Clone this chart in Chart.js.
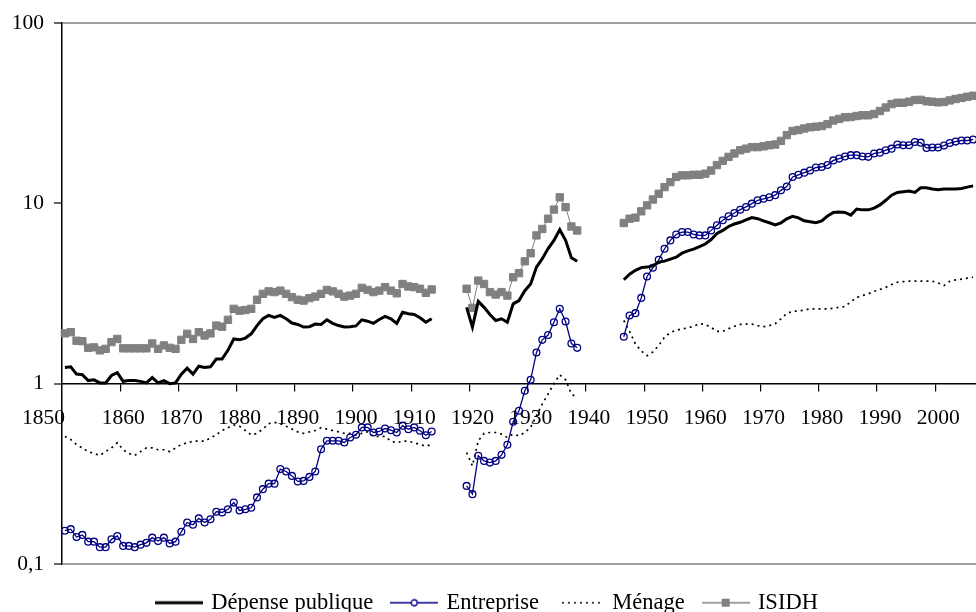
<!DOCTYPE html>
<html>
<head>
<meta charset="utf-8">
<script src="https://cdn.jsdelivr.net/npm/chart.js@4/dist/chart.umd.min.js"></script>
<style>
  html, body { margin: 0; padding: 0; background: #fff; }
  #wrap { width: 976px; height: 612px; position: relative; }
</style>
</head>
<body>
<div id="wrap"><canvas id="chart"></canvas></div>
<script>
// années couvertes : 1850-1913, 1919-1938, 1946-2006 (trous = guerres)
const firstYear = 1850;
const lastYear = 2006;

const depense1850 = [1.23, 1.24, 1.13, 1.12, 1.04, 1.05, 1.01, 1.01, 1.11, 1.15,
  1.03, 1.04, 1.04, 1.03, 1.01, 1.08, 1.01, 1.04, 1.00, 1.01,
  1.13, 1.22, 1.13, 1.25, 1.23, 1.24, 1.37, 1.37, 1.53, 1.77,
  1.75, 1.79, 1.89, 2.10, 2.29, 2.39, 2.33, 2.39, 2.29, 2.17,
  2.13, 2.06, 2.07, 2.14, 2.13, 2.26, 2.16, 2.10, 2.06, 2.07,
  2.09, 2.26, 2.22, 2.16, 2.27, 2.36, 2.29, 2.16, 2.49, 2.44,
  2.42, 2.32, 2.19, 2.29];
const depense1919 = [2.65, 2.06, 2.86, 2.65, 2.42, 2.24, 2.29, 2.19, 2.77, 2.89,
  3.28, 3.57, 4.43, 4.93, 5.61, 6.23, 7.14, 6.23, 4.99, 4.77];
const depense1946 = [3.77, 4.05, 4.25, 4.40, 4.43, 4.50, 4.72, 4.78, 4.90, 5.03,
  5.29, 5.45, 5.57, 5.75, 5.95, 6.30, 6.80, 7.08, 7.44, 7.68,
  7.85, 8.10, 8.33, 8.22, 8.00, 7.80, 7.60, 7.80, 8.20, 8.47,
  8.30, 8.00, 7.90, 7.80, 8.00, 8.50, 8.90, 8.95, 8.90, 8.60,
  9.30, 9.20, 9.20, 9.40, 9.80, 10.4, 11.1, 11.5, 11.6, 11.7,
  11.5, 12.2, 12.2, 12.0, 11.9, 12.0, 12.0, 12.0, 12.1, 12.3,
  12.5];

const entreprise1850 = [0.153, 0.156, 0.141, 0.145, 0.133, 0.133, 0.124, 0.124, 0.137, 0.143,
  0.126, 0.126, 0.124, 0.128, 0.131, 0.140, 0.134, 0.140, 0.130, 0.133,
  0.151, 0.170, 0.165, 0.179, 0.170, 0.177, 0.195, 0.193, 0.201, 0.219,
  0.198, 0.201, 0.205, 0.234, 0.260, 0.279, 0.279, 0.336, 0.326, 0.308,
  0.287, 0.289, 0.304, 0.326, 0.433, 0.482, 0.482, 0.482, 0.472, 0.503,
  0.521, 0.572, 0.572, 0.536, 0.543, 0.564, 0.552, 0.536, 0.585, 0.559,
  0.572, 0.548, 0.518, 0.543];
const entreprise1919 = [0.271, 0.244, 0.398, 0.373, 0.365, 0.373, 0.403, 0.458, 0.615, 0.708,
  0.914, 1.05, 1.49, 1.75, 1.86, 2.19, 2.60, 2.21, 1.67, 1.58];
const entreprise1946 = [1.82, 2.39, 2.46, 2.99, 3.93, 4.39, 4.86, 5.60, 6.23, 6.72,
  6.93, 6.93, 6.72, 6.64, 6.64, 7.08, 7.55, 8.05, 8.47, 8.84,
  9.22, 9.55, 9.96, 10.4, 10.6, 10.8, 11.1, 11.8, 12.4, 14.0,
  14.4, 14.8, 15.2, 15.8, 15.9, 16.3, 17.3, 17.7, 18.2, 18.5,
  18.5, 18.2, 18.1, 18.9, 19.1, 19.7, 20.1, 21.2, 21.0, 21.0,
  21.9, 21.7, 20.3, 20.4, 20.4, 20.9, 21.6, 22.0, 22.3, 22.3,
  22.6];

const menage1850 = [0.51, 0.49, 0.46, 0.44, 0.42, 0.41, 0.40, 0.42, 0.44, 0.47,
  0.43, 0.41, 0.40, 0.42, 0.44, 0.44, 0.43, 0.43, 0.42, 0.44,
  0.46, 0.47, 0.48, 0.48, 0.48, 0.50, 0.52, 0.55, 0.57, 0.59,
  0.58, 0.55, 0.52, 0.53, 0.56, 0.60, 0.61, 0.60, 0.58, 0.56,
  0.54, 0.53, 0.54, 0.55, 0.57, 0.56, 0.55, 0.54, 0.53, 0.53,
  0.52, 0.53, 0.54, 0.51, 0.51, 0.51, 0.48, 0.47, 0.48, 0.48,
  0.47, 0.46, 0.45, 0.46];
const menage1919 = [0.415, 0.35, 0.482, 0.53, 0.536, 0.536, 0.525, 0.503, 0.525, 0.514,
  0.536, 0.572, 0.664, 0.771, 0.876, 1.0, 1.12, 1.05, 0.876, 0.84];
const menage1946 = [2.24, 1.95, 1.66, 1.52, 1.43, 1.50, 1.63, 1.81, 1.92, 1.98,
  2.01, 2.04, 2.08, 2.15, 2.13, 2.05, 1.95, 1.95, 2.02, 2.08,
  2.13, 2.14, 2.14, 2.10, 2.07, 2.10, 2.15, 2.29, 2.45, 2.52,
  2.53, 2.56, 2.60, 2.60, 2.60, 2.60, 2.62, 2.65, 2.68, 2.85,
  3.00, 3.08, 3.15, 3.25, 3.33, 3.42, 3.55, 3.65, 3.68, 3.70,
  3.70, 3.70, 3.70, 3.70, 3.62, 3.50, 3.70, 3.76, 3.80, 3.85,
  3.89];

const isidh1850 = [1.90, 1.93, 1.73, 1.72, 1.58, 1.59, 1.53, 1.56, 1.70, 1.77,
  1.57, 1.57, 1.57, 1.57, 1.57, 1.67, 1.56, 1.63, 1.58, 1.56,
  1.75, 1.89, 1.77, 1.93, 1.85, 1.90, 2.10, 2.07, 2.26, 2.60,
  2.54, 2.56, 2.60, 2.92, 3.15, 3.25, 3.22, 3.28, 3.15, 3.02,
  2.92, 2.89, 2.98, 3.04, 3.15, 3.31, 3.25, 3.15, 3.04, 3.08,
  3.15, 3.40, 3.31, 3.22, 3.28, 3.43, 3.28, 3.17, 3.57, 3.46,
  3.43, 3.36, 3.19, 3.33];
const isidh1919 = [3.36, 2.63, 3.73, 3.57, 3.22, 3.12, 3.22, 3.08, 3.89, 4.10,
  4.77, 5.29, 6.64, 7.21, 8.22, 9.23, 10.8, 9.53, 7.44, 7.07];
const isidh1946 = [7.78, 8.22, 8.33, 9.03, 9.75, 10.5, 11.3, 12.3, 13.1, 14.0,
  14.3, 14.3, 14.4, 14.4, 14.6, 15.2, 16.3, 17.2, 18.1, 18.9,
  19.7, 20.1, 20.5, 20.5, 20.7, 21.0, 21.2, 22.2, 23.9, 25.2,
  25.5, 26.0, 26.4, 26.6, 26.8, 27.5, 28.8, 29.4, 30.0, 30.1,
  30.5, 30.8, 30.8, 31.3, 32.5, 34.0, 35.5, 36.1, 36.1, 36.6,
  37.4, 37.5, 36.8, 36.6, 36.3, 36.5, 37.2, 37.9, 38.4, 39.0,
  39.5];

const periodStarts = [1850, 1919, 1946];
const yTicks = [0.1, 1, 10, 100];
const yTickLabels = ['0,1', '1', '10', '100'];
const seriesNames = ['Dépense publique', 'Entreprise', 'Ménage', 'ISIDH'];

const years = [];
for (let y = firstYear; y <= lastYear; y++) years.push(y);

// colle les 3 périodes, null pour les années manquantes
function assemble(parts) {
  const out = years.map(() => null);
  parts.forEach((vals, p) => {
    vals.forEach((v, i) => { out[periodStarts[p] - firstYear + i] = v; });
  });
  return out;
}

const serif = "'Liberation Serif', 'Times New Roman', serif";
Chart.defaults.font.family = serif;
Chart.defaults.color = '#000';

// petites images pour la légende (trait + marqueur)
function sample(draw) {
  const c = document.createElement('canvas');
  c.width = 48; c.height = 14;
  const g = c.getContext('2d');
  draw(g);
  return c;
}
const samples = [
  sample(g => { g.strokeStyle = '#000'; g.lineWidth = 3; g.beginPath(); g.moveTo(0, 7); g.lineTo(48, 7); g.stroke(); }),
  sample(g => {
    g.strokeStyle = '#000080'; g.lineWidth = 1.3; g.beginPath(); g.moveTo(0, 7); g.lineTo(48, 7); g.stroke();
    g.fillStyle = '#fff'; g.beginPath(); g.arc(24, 7, 3, 0, Math.PI * 2); g.fill(); g.stroke();
  }),
  sample(g => { g.strokeStyle = '#000'; g.lineWidth = 1.7; g.setLineDash([2, 4]); g.beginPath(); g.moveTo(6, 7); g.lineTo(46, 7); g.stroke(); }),
  sample(g => {
    g.strokeStyle = '#808080'; g.lineWidth = 1.3; g.beginPath(); g.moveTo(0, 7); g.lineTo(48, 7); g.stroke();
    g.fillStyle = '#808080'; g.fillRect(20, 3, 8, 8);
  })
];

new Chart(document.getElementById('chart'), {
  type: 'line',
  data: {
    labels: years,
    datasets: [
      { label: seriesNames[0], data: assemble([depense1850, depense1919, depense1946]),
        borderColor: '#000', borderWidth: 3, pointRadius: 0 },
      { label: seriesNames[1], data: assemble([entreprise1850, entreprise1919, entreprise1946]),
        borderColor: '#000080', borderWidth: 1.3, pointStyle: 'circle', pointRadius: 3.4,
        pointBackgroundColor: 'rgba(255,255,255,0)', pointBorderColor: '#000080', pointBorderWidth: 1.3 },
      { label: seriesNames[2], data: assemble([menage1850, menage1919, menage1946]),
        borderColor: '#000', borderWidth: 1.7, borderDash: [2, 4], pointRadius: 0 },
      { label: seriesNames[3], data: assemble([isidh1850, isidh1919, isidh1946]),
        borderColor: '#808080', borderWidth: 1, pointStyle: 'rect', pointRadius: 5.2,
        pointBackgroundColor: '#808080', pointBorderColor: '#808080', pointBorderWidth: 1 }
    ]
  },
  options: {
    responsive: true,
    maintainAspectRatio: false,
    animation: false,
    events: [],
    spanGaps: false,
    layout: { autoPadding: false, padding: { top: 23, left: 0, right: 0, bottom: -12 } },
    scales: {
      x: {
        type: 'category',
        offset: true,
        position: { y: 1 },
        // pas de marge à droite : la zone de tracé va jusqu'au bord
        afterFit: s => { s.paddingRight = 0; },
        grid: {
          offset: true, drawOnChartArea: false, tickLength: 7, lineWidth: 1.2,
          tickColor: c => (c.index % 10 === 0 && c.index > 0 && c.index < years.length) ? '#000' : 'rgba(0,0,0,0)'
        },
        border: { color: '#000', width: 1.5 },
        ticks: {
          autoSkip: false, maxRotation: 0, minRotation: 0, padding: 15,
          font: { size: 21.5 }, color: '#000',
          callback: function (v, i) {
            const yr = years[i];
            if (yr % 10 !== 0) return '';
            // Excel décale le premier libellé vers la gauche
            return yr === firstYear ? yr + '        ' : String(yr);
          }
        }
      },
      y: {
        type: 'logarithmic',
        min: 0.1, max: 100,
        afterBuildTicks: s => { s.ticks = yTicks.map(v => ({ value: v })); },
        afterFit: s => { s.width = 62; },
        grid: {
          lineWidth: 2, tickLength: 8, tickColor: '#000', tickWidth: 1.2,
          color: c => (c.tick && (c.tick.value === 100 || c.tick.value === 0.1)) ? '#a0a0a0' : 'rgba(0,0,0,0)'
        },
        border: { color: '#000', width: 1.5 },
        ticks: {
          padding: 10, font: { size: 21.5 }, color: '#000',
          callback: v => { const k = yTicks.indexOf(v); return k >= 0 ? yTickLabels[k] : ''; }
        }
      }
    },
    plugins: {
      tooltip: { enabled: false },
      legend: {
        position: 'bottom',
        // titre vide : sert seulement à descendre la légende
        title: { display: true, text: '', font: { size: 1, lineHeight: 1 }, padding: { top: 6.5, bottom: 0 } },
        labels: {
          usePointStyle: true, pointStyleWidth: 42, padding: 20,
          font: { size: 22.5 }, color: '#000',
          generateLabels: chart => chart.data.datasets.map((ds, i) => ({
            text: ds.label, pointStyle: samples[i], datasetIndex: i, hidden: false,
            fillStyle: 'rgba(0,0,0,0)', strokeStyle: 'rgba(0,0,0,0)', lineWidth: 0
          }))
        }
      }
    }
  }
});
</script>
</body>
</html>
